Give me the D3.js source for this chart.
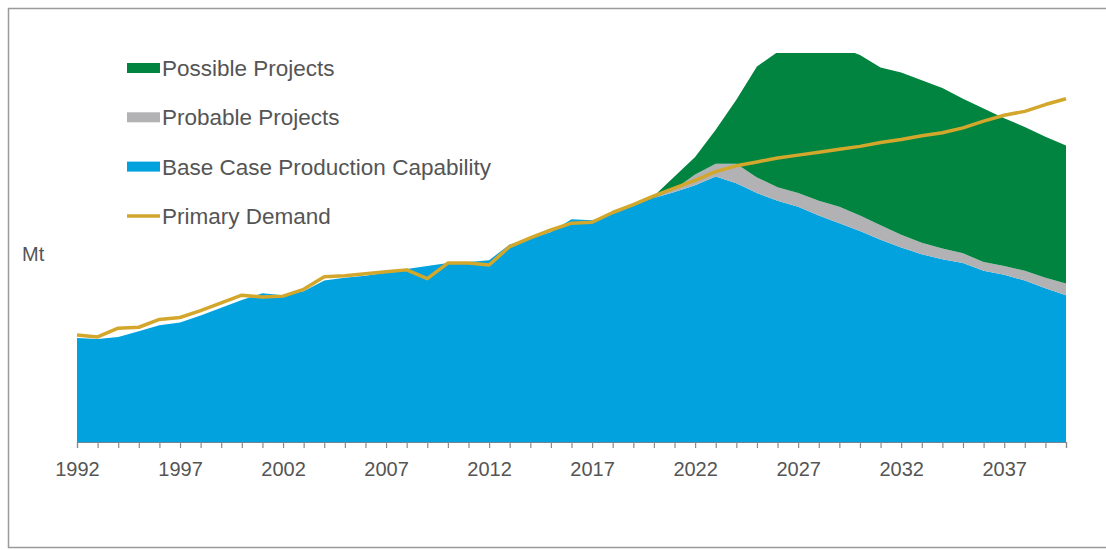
<!DOCTYPE html>
<html>
<head>
<meta charset="utf-8">
<script src="https://cdn.jsdelivr.net/npm/d3@7/dist/d3.min.js"></script>
<style>
  html, body { margin: 0; padding: 0; background: #ffffff; }
  svg { display: block; font-family: "Liberation Sans", Arial, sans-serif; }
</style>
</head>
<body>
<svg id="chart" width="1106" height="550"></svg>
<script>
// Years on the horizontal axis
const years = [1992, 1993, 1994, 1995, 1996, 1997, 1998, 1999, 2000, 2001,
               2002, 2003, 2004, 2005, 2006, 2007, 2008, 2009, 2010, 2011,
               2012, 2013, 2014, 2015, 2016, 2017, 2018, 2019, 2020, 2021,
               2022, 2023, 2024, 2025, 2026, 2027, 2028, 2029, 2030, 2031,
               2032, 2033, 2034, 2035, 2036, 2037, 2038, 2039, 2040];

// Base case production capability (Mt)
const baseCase = [107, 106, 108, 114, 120, 123, 130, 138, 146, 153,
                  151, 155, 166, 169, 171, 174, 178, 181, 184, 185,
                  187, 203, 209, 216, 229, 228, 235, 243, 251, 257,
                  264, 273, 266, 256, 248, 242, 233, 225, 217, 208,
                  200, 193, 188, 184, 176, 172, 166, 158, 151];

// Probable projects, added on top of the base case (Mt)
const probable = [0, 0, 0, 0, 0, 0, 0, 0, 0, 0,
                  0, 0, 0, 0, 0, 0, 0, 0, 0, 0,
                  0, 0, 0, 0, 0, 0, 0, 0, 0, 3,
                  11, 13, 20, 16, 14, 14, 15, 17, 16, 15,
                  13, 12, 11, 10, 9, 9, 10, 11, 12];

// Possible projects, added on top of probable projects (Mt)
const possible = [0, 0, 0, 0, 0, 0, 0, 0, 0, 0,
                  0, 0, 0, 0, 0, 0, 0, 0, 0, 0,
                  0, 0, 0, 0, 0, 0, 0, 0, 2, 13,
                  18, 35, 66, 114, 139, 153, 162, 164, 165, 162,
                  167, 167, 165, 159, 158, 152, 148, 145, 142];

// Primary demand (Mt)
const demand = [110, 108, 117, 118, 126, 128, 135, 143, 151, 149,
                150, 157, 170, 171, 173, 175, 177, 168, 184, 184,
                182, 201, 210, 218, 225, 226, 236, 244, 253, 261,
                269, 278, 284, 288, 292, 295, 298, 301, 304, 308,
                311, 315, 318, 323, 330, 336, 340, 347, 353];

// Labelled ticks
const tickYears = [1992, 1997, 2002, 2007, 2012, 2017, 2022, 2027, 2032, 2037];

const seriesKeys = ["base", "probable", "possible"];
const seriesNames = {
  possible: "Possible Projects",
  probable: "Probable Projects",
  base: "Base Case Production Capability",
  demand: "Primary Demand"
};
const colors = {
  base: "#02a2df",
  probable: "#b2b2b4",
  possible: "#00843f",
  demand: "#d3a72c"
};

const table = years.map((y, i) => ({
  year: y,
  base: baseCase[i],
  probable: probable[i],
  possible: possible[i],
  demand: demand[i]
}));

const svg = d3.select("#chart");
const W = 1106, H = 550;
const plot = { left: 77, right: 1066, top: 53, bottom: 442 };

// Outer frame
svg.append("rect")
  .attr("x", 8.5).attr("y", 8.5)
  .attr("width", W + 10).attr("height", 539)
  .attr("fill", "none")
  .attr("stroke", "#9a9a9a")
  .attr("stroke-width", 1.5);

const x = d3.scaleLinear().domain([1992, 2040]).range([plot.left, plot.right]);
const y = d3.scaleLinear().domain([0, 400]).range([plot.bottom, plot.top]);

svg.append("defs").append("clipPath").attr("id", "plotClip")
  .append("rect")
  .attr("x", plot.left).attr("y", plot.top)
  .attr("width", plot.right - plot.left)
  .attr("height", plot.bottom - plot.top);

const stacked = d3.stack().keys(seriesKeys)(table);

const area = d3.area()
  .x(d => x(d.data.year))
  .y0(d => y(d[0]))
  .y1(d => y(d[1]))
  .curve(d3.curveLinear);

const g = svg.append("g").attr("clip-path", "url(#plotClip)");

g.selectAll("path.layer")
  .data(stacked)
  .join("path")
  .attr("class", "layer")
  .attr("fill", d => colors[d.key])
  .attr("d", area);

// X axis
const xAxis = d3.axisBottom(x)
  .tickValues(years)
  .tickSize(6)
  .tickFormat(d => tickYears.includes(d) ? String(d) : "");

const ax = svg.append("g")
  .attr("transform", `translate(0,${plot.bottom})`)
  .call(xAxis);
ax.select(".domain").attr("stroke", "#6f8796").attr("stroke-width", 1.2);
ax.selectAll(".tick line").attr("stroke", "#8a8a8a").attr("stroke-width", 1.2);
ax.selectAll(".tick text")
  .attr("y", 20)
  .attr("fill", "#555555")
  .style("font-size", "20px")
  .style("font-family", "'Liberation Sans', Arial, sans-serif");

// Demand line
const line = d3.line()
  .x(d => x(d.year))
  .y(d => y(d.demand));

svg.append("path")
  .datum(table)
  .attr("fill", "none")
  .attr("stroke", colors.demand)
  .attr("stroke-width", 3.5)
  .attr("stroke-linejoin", "round")
  .attr("d", line);

// Unit label
svg.append("text")
  .attr("x", 22).attr("y", 261)
  .attr("fill", "#555555")
  .style("font-size", "20px")
  .text("Mt");

// Legend
const legendItems = ["possible", "probable", "base", "demand"];
const legend = svg.append("g");
legendItems.forEach((k, i) => {
  const cy = 68 + i * 49.3;
  if (k === "demand") {
    legend.append("line")
      .attr("x1", 127).attr("x2", 160)
      .attr("y1", cy).attr("y2", cy)
      .attr("stroke", colors.demand)
      .attr("stroke-width", 3.5);
  } else {
    legend.append("rect")
      .attr("x", 127).attr("y", cy - 5)
      .attr("width", 33).attr("height", 10)
      .attr("fill", colors[k]);
  }
  legend.append("text")
    .attr("x", 162).attr("y", cy + 8)
    .attr("fill", "#555555")
    .style("font-size", "22.5px")
    .text(seriesNames[k]);
});
</script>
</body>
</html>
